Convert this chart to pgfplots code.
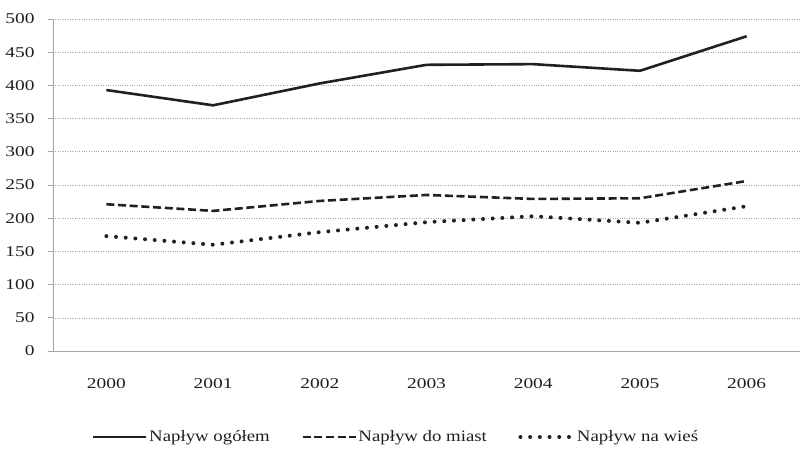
\documentclass[border=0pt]{standalone}
\usepackage{pgfplots}
\pgfplotsset{compat=1.18}
\usepackage{fontspec}
\setmainfont{Liberation Serif}
\newfontfamily\tickfont[FakeStretch=1.3]{Liberation Serif}
\newfontfamily\legfont[FakeStretch=1.18]{Liberation Serif}
\definecolor{axgray}{HTML}{A6A6A6}
\definecolor{ln}{HTML}{202020}
\begin{document}
\begin{tikzpicture}[x=1bp,y=1bp]
\useasboundingbox (-53bp,-106bp) rectangle (747bp,351bp);
\begin{axis}[
  at={(0,0)}, anchor=south west,
  scale only axis, width=747bp, height=332bp,
  xmin=-0.5, xmax=6.5, ymin=0, ymax=500,
  ytick={0,50,...,500},
  xtick={0,...,6},
  xticklabels={2000,2001,2002,2003,2004,2005,2006},
  extra x ticks={-0.5,0.5,...,6.5},
  extra x tick labels={},
  extra x tick style={major tick length=5bp, tick style={axgray, line width=0.8pt}, grid=none},
  x tick style={draw=none},
  axis x line=bottom, axis y line=left,
  axis line style={axgray, line width=0.8pt, -},
  y tick style={axgray, line width=0.8pt},
  tick align=outside,
  major tick length=5bp,
  ymajorgrids,
  major grid style={axgray, dotted, line width=0.6pt},
  tick label style={font=\tickfont\fontsize{15}{17}\selectfont, text=black!88},
  /pgf/number format/assume math mode=true,
  yticklabel style={xshift=-10bp},
  xticklabel style={yshift=-19bp},
  clip=false,
  legend columns=3,
  legend cell align=left,
  legend style={draw=none, fill=none, at={(0.459,-86bp)}, anchor=center,
    font=\legfont\fontsize{16}{18}\selectfont, column sep=0bp, inner sep=0pt,
    nodes={inner sep=1.5bp, text=black!88},
    /tikz/every even column/.append style={column sep=30bp}},
  legend image code/.code={\draw[#1] (0bp,0bp) -- (53bp,0bp);},
]
\addplot[ln, line width=2.6pt] coordinates {(0,393) (1,370) (2,403) (3,431) (4,432) (5,422) (6,474)};
\addlegendentry{Napływ ogółem}
\addplot[ln, line width=2.6pt, dash pattern=on 8bp off 3.7bp] coordinates {(0,221) (1,211) (2,226) (3,235) (4,229) (5,230) (6,256)};
\addlegendentry{Napływ do miast}
\addplot[ln, line width=4pt, line cap=round, dash pattern=on 0bp off 9.7bp] coordinates {(0,173) (1,160) (2,179) (3,194) (4,203) (5,193) (6,218)};
\addlegendentry{Napływ na wieś}
\end{axis}
\end{tikzpicture}
\end{document}
